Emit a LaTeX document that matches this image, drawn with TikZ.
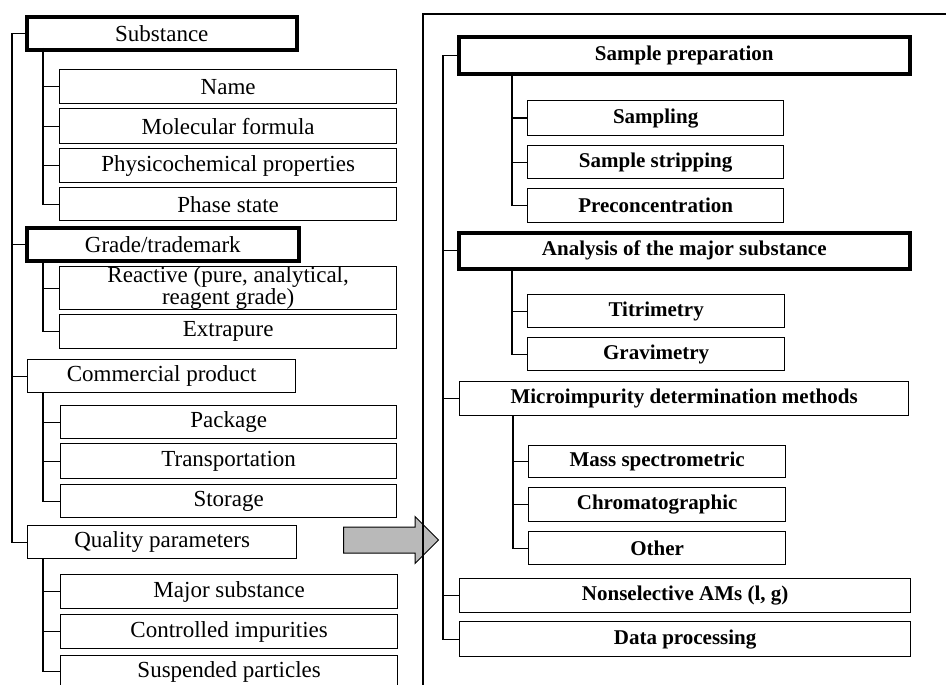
\documentclass[tikz,border=0pt]{standalone}
\usepackage{fontspec}
\setmainfont{Liberation Serif}
\usetikzlibrary{shapes.arrows}
\tikzset{
    box/.style = {draw, line width=1.3pt, anchor=north west, inner sep=0pt,
        align=center, font=\fontsize{23}{22}\selectfont},
    headbox/.style = {box, line width=3.6pt},
    rbox/.style = {box, font=\fontsize{21}{22}\selectfont\bfseries},
    rheadbox/.style = {rbox, line width=3.6pt},
    link/.style = {line width=1.3pt}
}

\begin{document}
\begin{tikzpicture}[x=1pt, y=-1pt]
    \clip (0,0) rectangle (946,685);
    \fill[white] (0,0) rectangle (946,685);

    % left column
    \node[headbox, minimum width=270, minimum height=33] (Substance) at (25,15) {Substance};
    \node[box, minimum width=337, minimum height=34] (Name) at (59,69) {Name};
    \node[box, minimum width=337, minimum height=35] (Formula) at (59,108) {Molecular formula};
    \node[box, minimum width=337, minimum height=34] (Props) at (59,148) {Physicochemical properties};
    \node[box, minimum width=337, minimum height=33] (Phase) at (59,187) {Phase state};
    \coordinate (SubT) at (43,48);

    \node[headbox, minimum width=272, minimum height=33] (Grade) at (25,226) {Grade/trademark};
    \node[box, minimum width=337, minimum height=43] (Reactive) at (59,266) {Reactive (pure, analytical,\\reagent grade)};
    \node[box, minimum width=337, minimum height=34] (Extrapure) at (59,314) {Extrapure};
    \coordinate (GradeT) at (43,259);

    \node[box, minimum width=268, minimum height=33] (Commercial) at (27,359) {Commercial product};
    \node[box, minimum width=336, minimum height=33] (Package) at (60,405) {Package};
    \node[box, minimum width=336, minimum height=35] (Transport) at (60,443) {Transportation};
    \node[box, minimum width=336, minimum height=33] (Storage) at (60,484) {Storage};
    \coordinate (ComT) at (43,392);

    \node[box, minimum width=269, minimum height=33] (Quality) at (27,525) {Quality parameters};
    \node[box, minimum width=337, minimum height=34] (Major) at (60,574) {Major substance};
    \node[box, minimum width=337, minimum height=34] (Controlled) at (60,614) {Controlled impurities};
    \node[box, minimum width=337, minimum height=32] (Suspended) at (60,655) {Suspended particles};
    \coordinate (QualT) at (43,558);

    \coordinate (LeftT) at (12,0);
    \draw[link] (Substance.west) -| (LeftT |- Quality.west) -- (Quality.west);
    \foreach \n in {Grade,Commercial}
        \draw[link] (LeftT |- \n.west) -- (\n.west);

    \draw[link] (SubT) |- (Phase.west);
    \foreach \n in {Name,Formula,Props}
        \draw[link] (SubT |- \n.west) -- (\n.west);
    \draw[link] (GradeT) |- (Extrapure.west);
    \draw[link] (GradeT |- Reactive.west) -- (Reactive.west);
    \draw[link] (ComT) |- (Storage.west);
    \foreach \n in {Package,Transport}
        \draw[link] (ComT |- \n.west) -- (\n.west);
    \draw[link] (QualT) |- (Suspended.west);
    \foreach \n in {Major,Controlled}
        \draw[link] (QualT |- \n.west) -- (\n.west);

    % arrow
    \node[single arrow, draw, line width=1pt, fill=gray!55, minimum height=95,
        inner sep=12.5pt, single arrow head extend=10.5pt, anchor=west] (flow) at (343,540) {};

    % right frame
    \coordinate (FrameTL) at (423,14);
    \draw[link] (946,14) -- (FrameTL) -- (423,690);

    \node[rheadbox, minimum width=451, minimum height=37] (Prep) at (457,35) {Sample preparation};
    \node[rbox, minimum width=256, minimum height=35] (Sampling) at (527,100) {Sampling};
    \node[rbox, minimum width=256, minimum height=33] (Stripping) at (527,145) {Sample stripping};
    \node[rbox, minimum width=256, minimum height=34] (Precon) at (527,188) {Preconcentration};
    \coordinate (PrepT) at (512,72);

    \node[rheadbox, minimum width=451, minimum height=36] (Analysis) at (457,231) {Analysis of the major substance};
    \node[rbox, minimum width=257, minimum height=33] (Titri) at (527,294) {Titrimetry};
    \node[rbox, minimum width=257, minimum height=33] (Gravi) at (527,337) {Gravimetry};
    \coordinate (AnaT) at (512,267);

    \node[rbox, minimum width=449, minimum height=34] (Micro) at (459,381) {Microimpurity determination methods};
    \node[rbox, minimum width=257, minimum height=32] (Mass) at (528,445) {Mass spectrometric};
    \node[rbox, minimum width=257, minimum height=34] (Chrom) at (528,487) {Chromatographic};
    \node[rbox, minimum width=257, minimum height=33] (Other) at (528,531) {Other};
    \coordinate (MicroT) at (513,415);

    \node[rbox, minimum width=451, minimum height=34] (Nonsel) at (459,578) {Nonselective AMs (l, g)};
    \node[rbox, minimum width=451, minimum height=35] (Data) at (459,621) {Data processing};

    \coordinate (RightT) at (443,0);
    \draw[link] (Prep.west) -| (RightT |- Data.west) -- (Data.west);
    \foreach \n in {Analysis,Micro,Nonsel}
        \draw[link] (RightT |- \n.west) -- (\n.west);

    \draw[link] (PrepT) |- (Precon.west);
    \foreach \n in {Sampling,Stripping}
        \draw[link] (PrepT |- \n.west) -- (\n.west);
    \draw[link] (AnaT) |- (Gravi.west);
    \draw[link] (AnaT |- Titri.west) -- (Titri.west);
    \draw[link] (MicroT) |- (Other.west);
    \foreach \n in {Mass,Chrom}
        \draw[link] (MicroT |- \n.west) -- (\n.west);

\end{tikzpicture}
\end{document}
